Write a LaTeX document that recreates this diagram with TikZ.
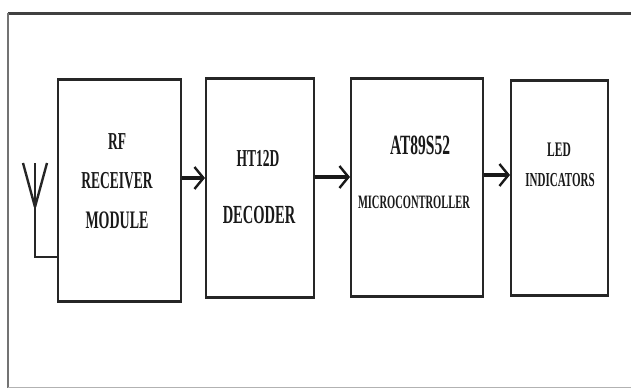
\documentclass[tikz,border=0pt]{standalone}
\usepackage{fontspec}
\setmainfont{Liberation Serif}
\usetikzlibrary{arrows.meta}
\newcommand\stretchtxt[2]{\scalebox{1}[1.8]{\fontsize{#1}{#1}\selectfont\bfseries #2}}
\begin{document}
\begin{tikzpicture}[x=1pt,y=-1pt,
  box/.style={draw=black!85, line width=1.8pt, inner sep=0pt, anchor=north west},
  lbl/.style={inner sep=0pt, text=black!90},
  arr/.style={line width=3.5pt, draw=black!90, -{Straight Barb[length=9pt,width=22pt,line width=2.4pt]}},
  wire/.style={line width=2.4pt, draw=black!85}]
\useasboundingbox (0,0) rectangle (631,388);
% frame
\draw[line width=3pt, black!75] (8,13) -- (631,13);
\draw[line width=1.5pt, black!55] (8,13) -- (8,388);
\draw[line width=1pt, black!30] (8,387) -- (631,387);
% boxes
\node[box, minimum width=123pt, minimum height=221pt] (rf) at (57,79) {};
\node[box, minimum width=108pt, minimum height=218pt] (hd) at (205,78) {};
\node[box, minimum width=132pt, minimum height=217pt] (mc) at (350,78) {};
\node[box, minimum width=97pt, minimum height=214pt] (led) at (510,80) {};
\foreach \n in {rf,hd,mc,led}{
  \draw[line width=3pt, black!85] (\n.north west) -- (\n.north east);
  \draw[line width=3pt, black!85] (\n.south west) -- (\n.south east);
}
% labels
\node[lbl] (t1) at (117,142) {\stretchtxt{13.5}{RF}};
\node[lbl] (t2) at (117,181) {\stretchtxt{13.5}{RECEIVER}};
\node[lbl] (t3) at (117,220) {\stretchtxt{14}{MODULE}};
\node[lbl] (t4) at (258,158) {\stretchtxt{13.5}{HT12D}};
\node[lbl] (t5) at (259,215) {\stretchtxt{14.5}{DECODER}};
\node[lbl] (t6) at (420,145) {\stretchtxt{15.5}{AT89S52}};
\node[lbl] (t7) at (414,202) {\stretchtxt{10.5}{MICROCONTROLLER}};
\node[lbl] (t8) at (559,150) {\stretchtxt{11.5}{LED}};
\node[lbl] (t9) at (560,180) {\stretchtxt{11}{INDICATORS}};
% arrows
\coordinate (a1) at (0,178);
\coordinate (a2) at (0,177);
\coordinate (a3) at (0,175);
\draw[arr] (rf.east |- a1) -- (hd.west |- a1);
\draw[arr] (hd.east |- a2) -- (mc.west |- a2);
\draw[arr] (mc.east |- a3) -- (led.west |- a3);
% antenna
\coordinate (ant) at (35,163);
\coordinate (antj) at (35,207);
\coordinate (antb) at (35,257);
\draw[wire, line join=round] (23,163) -- (antj) -- (47,163);
\draw[wire] (ant) -- (antb) -- (rf.west |- antb);
\end{tikzpicture}
\end{document}
